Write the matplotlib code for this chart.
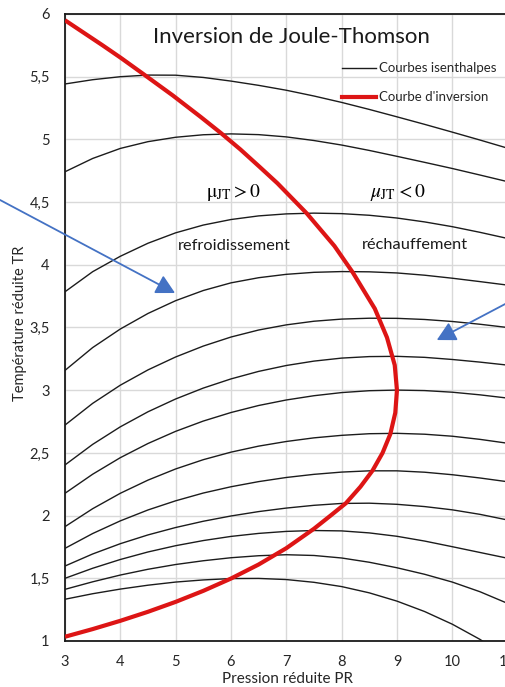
import matplotlib
matplotlib.use('Agg')
import matplotlib.pyplot as plt
from matplotlib.lines import Line2D

# ---------------- data ----------------
pressure = [3, 3.5, 4, 4.5, 5, 5.5, 6, 6.5, 7, 7.5, 8, 8.5, 9, 9.5, 10, 10.5, 11]

h01 = [5.442, 5.476, 5.500, 5.513, 5.512, 5.494, 5.465, 5.431, 5.392, 5.346, 5.295, 5.239, 5.180, 5.120, 5.058, 4.995, 4.930]
h02 = [4.742, 4.848, 4.928, 4.982, 5.017, 5.037, 5.044, 5.038, 5.020, 4.991, 4.955, 4.912, 4.865, 4.817, 4.768, 4.716, 4.663]
h03 = [3.785, 3.945, 4.068, 4.172, 4.255, 4.317, 4.361, 4.390, 4.406, 4.412, 4.408, 4.395, 4.373, 4.342, 4.304, 4.259, 4.210]
h04 = [3.158, 3.340, 3.488, 3.612, 3.714, 3.795, 3.856, 3.897, 3.924, 3.940, 3.946, 3.944, 3.935, 3.917, 3.893, 3.866, 3.838]
h05 = [2.722, 2.895, 3.040, 3.162, 3.265, 3.352, 3.424, 3.480, 3.521, 3.550, 3.567, 3.574, 3.573, 3.564, 3.548, 3.526, 3.500]
h06 = [2.404, 2.568, 2.708, 2.828, 2.930, 3.017, 3.090, 3.150, 3.197, 3.232, 3.256, 3.268, 3.270, 3.262, 3.245, 3.224, 3.200]
h07 = [2.178, 2.330, 2.462, 2.575, 2.672, 2.754, 2.822, 2.878, 2.922, 2.956, 2.981, 2.996, 3.001, 2.997, 2.984, 2.963, 2.937]
h08 = [1.912, 2.055, 2.178, 2.283, 2.372, 2.446, 2.506, 2.554, 2.591, 2.620, 2.640, 2.653, 2.656, 2.649, 2.633, 2.608, 2.577]
h09 = [1.739, 1.857, 1.958, 2.045, 2.118, 2.180, 2.230, 2.271, 2.304, 2.329, 2.347, 2.357, 2.357, 2.346, 2.326, 2.300, 2.270]
h10 = [1.598, 1.694, 1.776, 1.846, 1.905, 1.955, 1.997, 2.032, 2.060, 2.082, 2.097, 2.099, 2.090, 2.072, 2.046, 2.010, 1.965]
h11 = [1.500, 1.580, 1.650, 1.710, 1.760, 1.801, 1.834, 1.858, 1.874, 1.881, 1.878, 1.862, 1.835, 1.797, 1.752, 1.706, 1.660]
h12 = [1.412, 1.472, 1.526, 1.572, 1.610, 1.640, 1.664, 1.680, 1.688, 1.682, 1.662, 1.628, 1.584, 1.532, 1.470, 1.393, 1.300]
h13 = [1.333, 1.377, 1.414, 1.445, 1.470, 1.487, 1.498, 1.499, 1.490, 1.468, 1.434, 1.384, 1.318, 1.235, 1.134, 1.013, 0.869]
isenthalps = [h01, h02, h03, h04, h05, h06, h07, h08, h09, h10, h11, h12, h13]

inv_T = [1.034, 1.095, 1.161, 1.233, 1.312, 1.400, 1.498, 1.610, 1.740, 1.895, 2.000, 2.100,
         2.230, 2.360, 2.500, 2.650, 2.820, 3.000, 3.200, 3.420, 3.650, 3.940, 4.150, 4.410,
         4.650, 4.780, 4.920, 5.050, 5.180, 5.350, 5.520, 5.650, 5.750, 5.850, 5.950]
inv_P = [3.00, 3.50, 4.00, 4.50, 5.00, 5.50, 6.00, 6.50, 7.00, 7.50, 7.80, 8.08,
         8.34, 8.56, 8.74, 8.88, 8.97, 9.00, 8.96, 8.82, 8.60, 8.20, 7.87, 7.37,
         6.84, 6.52, 6.17, 5.82, 5.45, 4.95, 4.42, 4.01, 3.68, 3.34, 3.00]

xticks = [3, 4, 5, 6, 7, 8, 9, 10, 11]
xtick_labels = ['3', '4', '5', '6', '7', '8', '9', '10', '11']
yticks = [1, 1.5, 2, 2.5, 3, 3.5, 4, 4.5, 5, 5.5, 6]
ytick_labels = ['1', '1,5', '2', '2,5', '3', '3,5', '4', '4,5', '5', '5,5', '6']

title = 'Inversion de Joule-Thomson'
xlabel = 'Pression réduite PR'
ylabel = 'Température réduite TR'
legend_labels = ['Courbes isenthalpes', "Courbe d'inversion"]

# ---------------- figure ----------------
plt.rcParams['font.family'] = ['Lato', 'DejaVu Sans']
plt.rcParams['mathtext.fontset'] = 'stix'

W, H = 506, 687
fig = plt.figure(figsize=(W / 100, H / 100), dpi=100)
left_px, right_px, top_px, bot_px = 65, 507.6, 14, 641
ax = fig.add_axes([left_px / W, (H - bot_px) / H,
                   (right_px - left_px) / W, (bot_px - top_px) / H])

black = '#1c1c1c'
red = '#DD1515'
blue = '#4472C4'
text_col = '#262626'

for h in isenthalps:
    ax.plot(pressure, h, color=black, lw=1.0, zorder=3)
ax.plot(inv_P, inv_T, color=red, lw=3.0, zorder=4, solid_capstyle='butt',
        solid_joinstyle='round')

ax.set_xlim(3, 11)
ax.set_ylim(1, 6)
ax.set_xticks(xticks)
ax.set_xticklabels(xtick_labels)
ax.set_yticks(yticks)
ax.set_yticklabels(ytick_labels)
ax.tick_params(axis='both', length=0, labelsize=10.5, colors=text_col)
ax.tick_params(axis='y', pad=11)
ax.tick_params(axis='x', pad=10)
ax.grid(True, color='#D9D9D9', lw=1.0, zorder=0)
ax.set_axisbelow(True)
for s in ['left', 'bottom', 'top']:
    ax.spines[s].set_color('#1a1a1a')
    ax.spines[s].set_linewidth(1.3)
ax.spines['right'].set_visible(False)

ax.set_xlabel(xlabel, fontsize=11, color=text_col)
ax.xaxis.set_label_coords(0.5016, -0.0494)
ax.set_ylabel(ylabel, fontsize=10.5, color=text_col)
ax.yaxis.set_label_coords(-0.086, 0.506)

ax.text(7.10, 5.817, title, fontsize=16, color='#1a1a1a', ha='center', va='center')

# legend
handles = [Line2D([], [], color=black, lw=1.0), Line2D([], [], color=red, lw=3.0)]
ax.legend(handles, legend_labels, loc='upper left',
          bbox_to_anchor=(342 / W, 1 - 62.5 / H), bbox_transform=fig.transFigure,
          frameon=False, fontsize=9.5, handlelength=2.58, handletextpad=0.23,
          labelspacing=1.27, borderpad=0.0, borderaxespad=0.0, labelcolor=text_col)

# annotations
ax.text(6.04, 4.575, r'$\mathrm{\mu}_{\mathrm{JT}} > 0$', fontsize=14, ha='center', va='center')
ax.text(9.01, 4.575, r'$\mu_{\mathrm{JT}} < 0$', fontsize=14, ha='center', va='center')
ax.text(6.065, 4.15, 'refroidissement', fontsize=11.8, ha='center', va='center', color='#1a1a1a')
ax.text(9.32, 4.158, 'réchauffement', fontsize=11.8, ha='center', va='center', color='#1a1a1a')

arrow_kw = dict(arrowstyle='-|>,head_length=0.6,head_width=0.32', color=blue, lw=1.3,
                mutation_scale=19, shrinkA=0, shrinkB=0, clip_on=False)
a1 = ax.annotate('', xy=(4.989, 3.775), xytext=(1.825, 4.517), xycoords='data',
                 textcoords='data', arrowprops=arrow_kw, annotation_clip=False)
a2 = ax.annotate('', xy=(9.72, 3.40), xytext=(11.23, 3.751), xycoords='data',
                 textcoords='data', arrowprops=arrow_kw, annotation_clip=False)
a1.arrow_patch.set_clip_on(False)
a2.arrow_patch.set_clip_on(False)

fig.savefig('out.png', dpi=100)
